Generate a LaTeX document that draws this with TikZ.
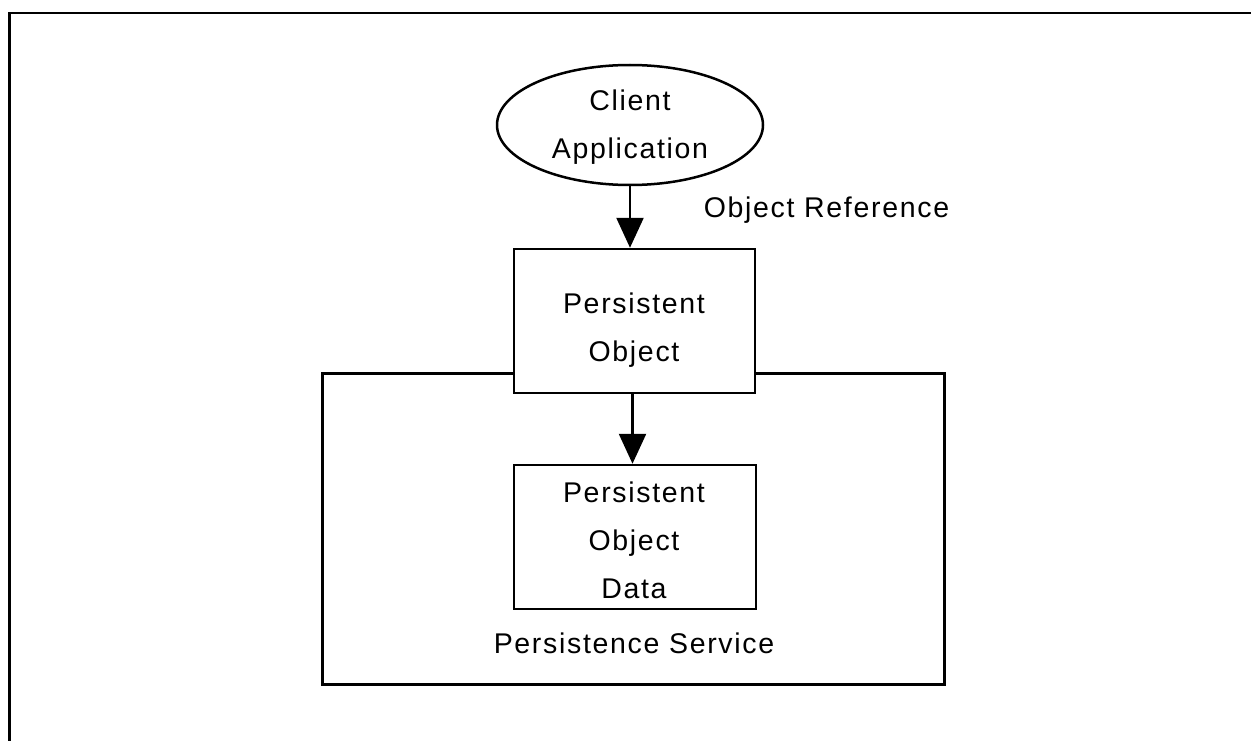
\documentclass[tikz,border=0pt]{standalone}
\usepackage{fontspec}
\newfontfamily\diagfont{Liberation Sans}[LetterSpace=5.9]
\usetikzlibrary{arrows.meta,shapes.geometric}
\tikzset{
  lw/.style={line width=2.5pt},
  boxnode/.style={lw, draw=black, rectangle, inner sep=0pt},
  ellnode/.style={lw, draw=black, ellipse, inner sep=0pt},
  txt/.style={inner sep=0pt, align=center, font=\diagfont\fontsize{28.5}{48}\selectfont},
  arr/.style={lw, -{Triangle[length=30pt,width=27pt]}},
}
\begin{document}
\begin{tikzpicture}[x=1pt,y=-1pt]
\useasboundingbox (0,0) rectangle (1251,741);
% partial frame
\draw[line width=2.8pt] (9.5,745) -- (9.5,13) -- (1255,13);
% persistence service box
\node[boxnode, minimum width=622pt, minimum height=311pt] (ps) at (633.5,529) {};
% client application
\node[ellnode, minimum width=266pt, minimum height=120pt] (cl) at (630,125) {};
\node[txt] (cltext) at (630,126.8) {Client\\Application};
% persistent object
\node[boxnode, fill=white, minimum width=241pt, minimum height=144pt] (po) at (634.5,321) {};
\node[txt] (potext) at (634,330.3) {Persistent\\Object};
% persistent object data
\node[boxnode, fill=white, minimum width=242pt, minimum height=144pt] (pod) at (635,537) {};
\node[txt] (podtext) at (634,540.8) {Persistent\\Object\\Data};
% labels
\node[txt, anchor=base] (ortext) at (826.5,217) {Object Reference};
\node[txt, anchor=base] (pstext) at (634,653) {Persistence Service};
% arrows
\draw[arr] (cl.south) -- (cl.south |- po.north);
\draw[arr] ([xshift=-2pt]po.south) -- ([xshift=-2pt]po.south |- pod.north);
\end{tikzpicture}
\end{document}
